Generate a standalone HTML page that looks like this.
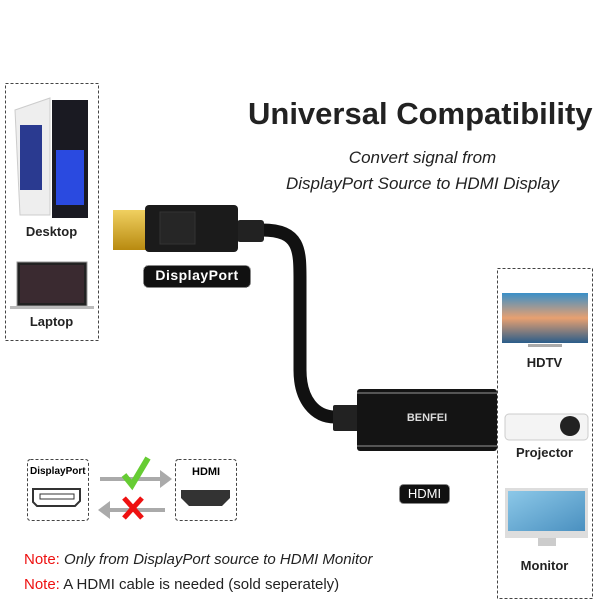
<!DOCTYPE html>
<html><head><style>
body{margin:0;width:600px;height:600px;background:#fff;position:relative;overflow:hidden;font-family:"Liberation Sans",sans-serif}
.a{position:absolute}
.lab{position:absolute;font-weight:bold;font-size:13px;text-align:center;color:#222}
</style></head><body>
<svg class="a" style="left:0;top:0" width="600" height="600">
<defs>
<linearGradient id="tv" x1="0" y1="0" x2="0" y2="1"><stop offset="0" stop-color="#3a8fc8"/><stop offset=".5" stop-color="#e8a070"/><stop offset="1" stop-color="#2a5d8a"/></linearGradient>
<linearGradient id="mon" x1="0" y1="0" x2="1" y2="1"><stop offset="0" stop-color="#8cc8e8"/><stop offset="1" stop-color="#4a90c0"/></linearGradient>
<linearGradient id="gold" x1="0" y1="0" x2="0" y2="1"><stop offset="0" stop-color="#f0d060"/><stop offset="1" stop-color="#b88a10"/></linearGradient>
</defs>
<rect x="5.5" y="83.5" width="93" height="257" fill="none" stroke="#444" stroke-dasharray="3,2"/>
<rect x="497.5" y="268.5" width="95" height="330" fill="none" stroke="#444" stroke-dasharray="3,2"/>
<!-- desktop -->
<path d="M15 110 L50 98 L50 215 L20 215 Z" fill="#eee" stroke="#ccc"/>
<rect x="20" y="125" width="22" height="65" fill="#2a3a90"/>
<rect x="52" y="100" width="36" height="118" fill="#1a1a22"/>
<rect x="56" y="150" width="28" height="55" fill="#2a4ae0"/>
<!-- laptop -->
<rect x="17" y="262" width="70" height="44" fill="#222" stroke="#999"/>
<rect x="20" y="265" width="64" height="38" fill="#3a2a30"/>
<rect x="10" y="306" width="84" height="3" fill="#bbb"/>
<!-- cable -->
<path d="M262 230 C300 230 300 250 300 280 L300 370 C300 400 315 417 335 417" fill="none" stroke="#111" stroke-width="13"/>
<rect x="237" y="220" width="27" height="22" rx="3" fill="#222"/>
<rect x="113" y="210" width="34" height="40" fill="url(#gold)"/>
<rect x="145" y="205" width="93" height="47" rx="4" fill="#1b1b1b"/>
<rect x="160" y="212" width="35" height="32" fill="#262626" stroke="#333"/>
<rect x="333" y="405" width="26" height="26" rx="2" fill="#222"/>
<rect x="357" y="389" width="140" height="62" rx="3" fill="#141414"/>
<rect x="357" y="392" width="140" height="2" fill="#555"/>
<rect x="357" y="445" width="140" height="2" fill="#555"/>
<!-- labels -->
<rect x="143.5" y="265.5" width="107" height="22" rx="5" fill="#111" stroke="#888" stroke-dasharray="2,1"/>
<rect x="399.5" y="484.5" width="50" height="19" rx="4" fill="#111" stroke="#888" stroke-dasharray="2,1"/>
<!-- HDTV -->
<rect x="502" y="293" width="86" height="50" fill="url(#tv)"/>
<rect x="528" y="344" width="34" height="3" fill="#aaa"/>
<!-- projector -->
<rect x="505" y="414" width="83" height="26" rx="4" fill="#f4f4f4" stroke="#ccc"/>
<circle cx="570" cy="426" r="10" fill="#222"/>
<!-- monitor -->
<rect x="505" y="488" width="83" height="50" fill="#ddd"/>
<rect x="508" y="491" width="77" height="40" fill="url(#mon)"/>
<rect x="538" y="538" width="18" height="8" fill="#ccc"/>
<!-- bottom boxes -->
<rect x="27.5" y="459.5" width="61" height="61" rx="3" fill="none" stroke="#444" stroke-dasharray="3,2"/>
<rect x="175.5" y="459.5" width="61" height="61" rx="3" fill="none" stroke="#444" stroke-dasharray="3,2"/>
<path d="M33 489 L80 489 L80 501 L75 506 L37 506 L33 502 Z" fill="none" stroke="#333" stroke-width="2"/>
<rect x="40" y="494" width="34" height="5" fill="none" stroke="#333"/>
<path d="M181 490 L230 490 L230 498 L222 506 L189 506 L181 498 Z" fill="#333"/>
<path d="M100 477 L160 477 L160 470 L172 479 L160 488 L160 481 L100 481 Z" fill="#aaa"/>
<path d="M165 508 L110 508 L110 501 L98 510 L110 519 L110 512 L165 512 Z" fill="#aaa"/>
<path d="M124 475 L132 485 L148 458" fill="none" stroke="#6c3" stroke-width="6"/>
<path d="M124 498 L142 518 M142 498 L124 518" stroke="#e11" stroke-width="5"/>
</svg>
<div class="a" style="left:248px;top:96px;font-size:31px;font-weight:bold;color:#222">Universal Compatibility</div>
<div class="a" style="left:250px;top:145px;width:345px;text-align:center;font-size:17px;font-style:italic;line-height:26px;color:#222">Convert signal from<br>DisplayPort Source to HDMI Display</div>
<div class="lab" style="left:5px;top:224px;width:93px">Desktop</div>
<div class="lab" style="left:5px;top:314px;width:93px">Laptop</div>
<div class="lab" style="left:497px;top:355px;width:95px">HDTV</div>
<div class="lab" style="left:497px;top:445px;width:95px">Projector</div>
<div class="lab" style="left:497px;top:558px;width:95px">Monitor</div>
<div class="a" style="left:143px;top:267px;width:108px;text-align:center;color:#fff;font-weight:bold;font-size:14px;letter-spacing:.5px">DisplayPort</div>
<div class="a" style="left:399px;top:486px;width:51px;text-align:center;color:#fff;font-size:13px">HDMI</div>
<div class="a" style="left:357px;top:412px;width:140px;text-align:center;color:#ddd;font-weight:bold;font-size:11px">BENFEI</div>
<div class="a" style="left:30px;top:466px;font-weight:bold;font-size:10px">DisplayPort</div>
<div class="a" style="left:192px;top:466px;font-weight:bold;font-size:11px">HDMI</div>
<div class="a" style="left:24px;top:551px;font-size:15px;color:#222"><span style="color:#e11">Note:</span> <i>Only from DisplayPort source to HDMI Monitor</i></div>
<div class="a" style="left:24px;top:576px;font-size:15px;color:#222"><span style="color:#e11">Note:</span> A HDMI cable is needed (sold seperately)</div>
</body></html>
